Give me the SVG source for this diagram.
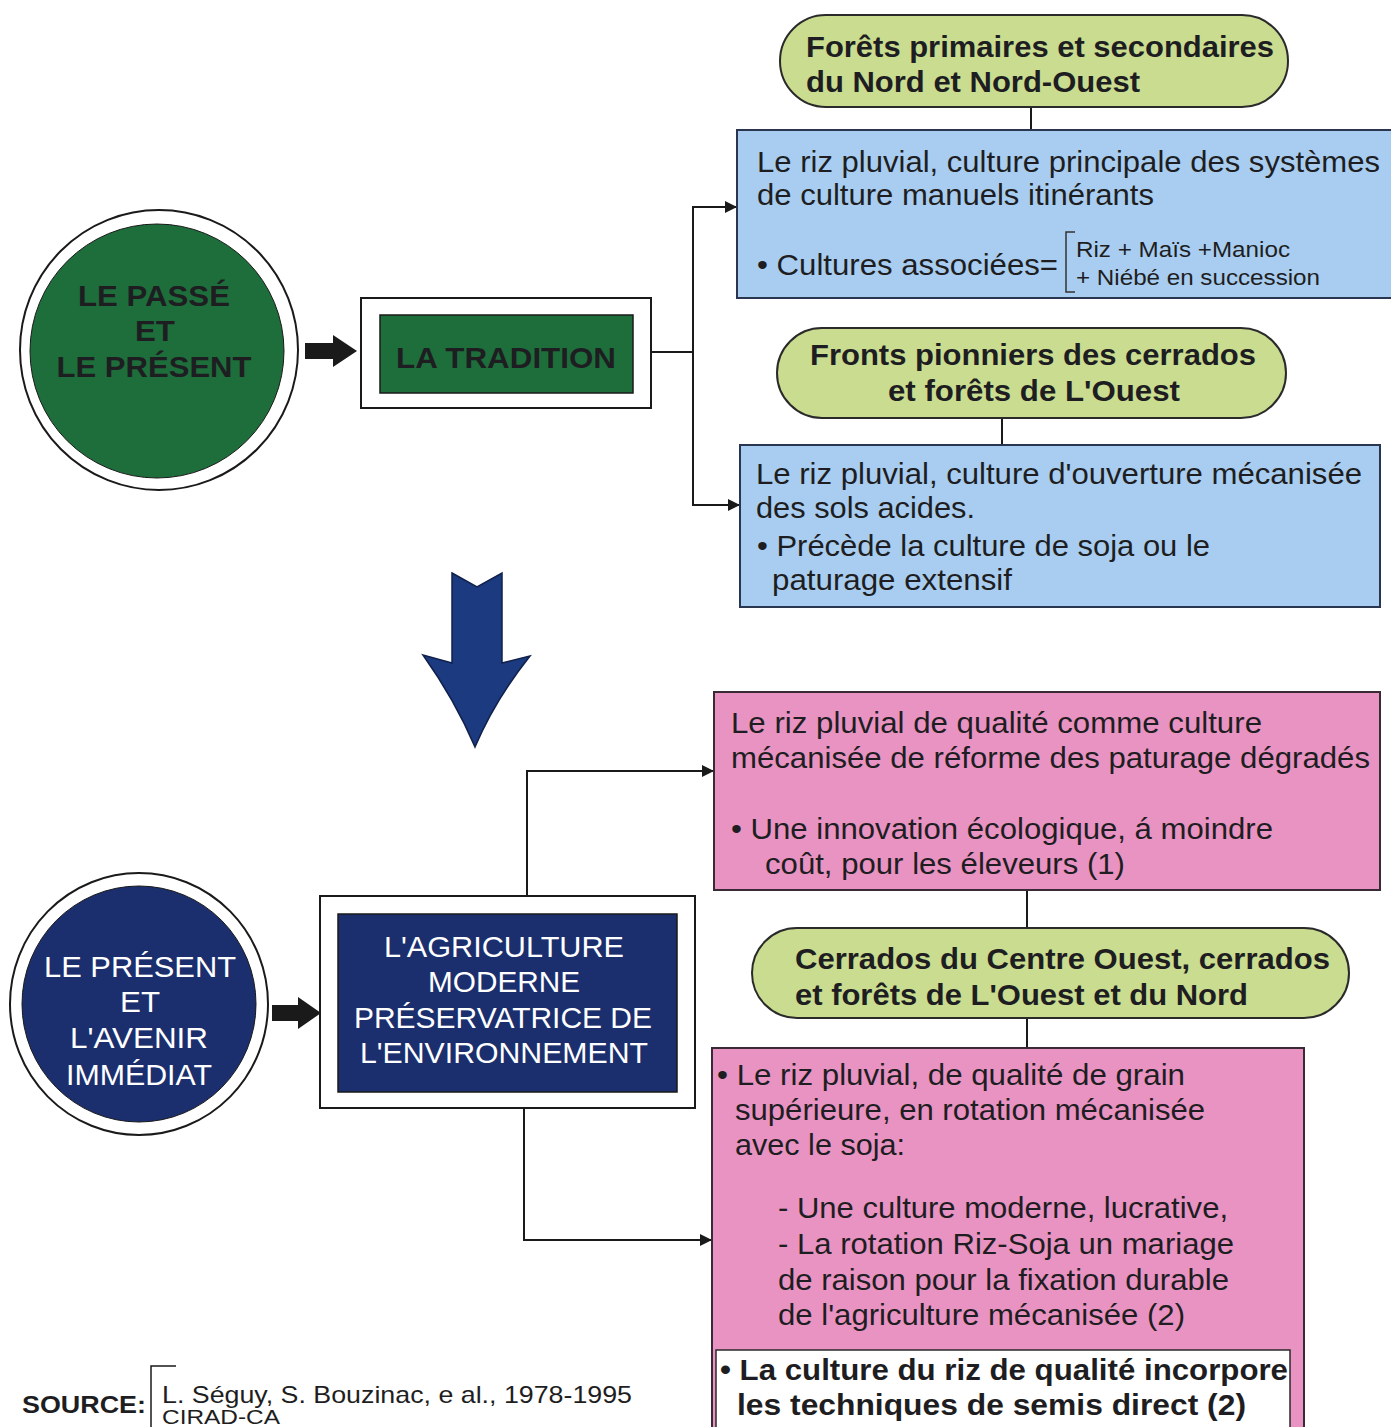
<svg xmlns="http://www.w3.org/2000/svg" width="1391" height="1427" viewBox="0 0 1391 1427">
<defs>
<style>
text{font-family:"Liberation Sans",Arial,sans-serif;fill:#1e1e22}
.b{font-weight:bold}
.t{font-size:29px}
.s{font-size:22px}
.p{font-size:30px;font-weight:bold}
.w{fill:#ffffff}
.pill{fill:#c9dc8f;stroke:#2a2a2a;stroke-width:2}
.blue{fill:#a8cdf0;stroke:#2a3550;stroke-width:2}
.pink{fill:#e993c3;stroke:#3a2a35;stroke-width:2}
.frame{fill:#ffffff;stroke:#1a1a1a;stroke-width:2}
.con{fill:none;stroke:#1a1a1a;stroke-width:2}
</style>
<marker id="ah" viewBox="0 0 12 12" refX="11" refY="6" markerWidth="12" markerHeight="12" markerUnits="userSpaceOnUse" orient="auto">
<path d="M0,0 L12,6 L0,12 z" fill="#1a1a1a"/>
</marker>
</defs>
<rect width="1391" height="1427" fill="#ffffff"/>

<g id="connectors">
<line class="con" x1="1031" y1="107" x2="1031" y2="130"/>
<line class="con" x1="1002" y1="418" x2="1002" y2="445"/>
<polyline class="con" points="651,352 693,352"/>
<polyline class="con" points="693,352 693,207 736,207" marker-end="url(#ah)"/>
<polyline class="con" points="693,352 693,505 739,505" marker-end="url(#ah)"/>
<polyline class="con" points="527,896 527,771 713,771" marker-end="url(#ah)"/>
<polyline class="con" points="524,1108 524,1240 711,1240" marker-end="url(#ah)"/>
<line class="con" x1="1027" y1="890" x2="1027" y2="928"/>
<line class="con" x1="1027" y1="1018" x2="1027" y2="1048"/>
<path d="M305,343 L333,343 L333,335 L357,351 L333,367 L333,359 L305,359 Z" fill="#1a1a1a"/>
<path d="M272,1005 L298,1005 L298,997 L321,1013 L298,1029 L298,1021 L272,1021 Z" fill="#1a1a1a"/>
<path d="M452,573 L477,587 L502,573 L502,663 L530,656 Q495,700 475,747 Q455,700 423,655 L452,663 Z" fill="#1b3a80" stroke="#10204a" stroke-width="1.5"/>
</g>

<g id="pill1">
<rect class="pill" x="780" y="15" width="508" height="92" rx="46"/>
<text class="p" x="806" y="57" textLength="468" lengthAdjust="spacingAndGlyphs">Forêts primaires et secondaires</text>
<text class="p" x="806" y="92" textLength="334" lengthAdjust="spacingAndGlyphs">du Nord et Nord-Ouest</text>
</g>

<g id="blue1">
<rect class="blue" x="737" y="130" width="660" height="168"/>
<text class="t" x="757" y="172" textLength="623" lengthAdjust="spacingAndGlyphs">Le riz pluvial, culture principale des systèmes</text>
<text class="t" x="757" y="205" textLength="397" lengthAdjust="spacingAndGlyphs">de culture manuels itinérants</text>
<text class="t" x="757" y="275" textLength="301" lengthAdjust="spacingAndGlyphs">• Cultures associées=</text>
<polyline points="1075,232 1066,232 1066,292 1075,292" fill="none" stroke="#333" stroke-width="1.5"/>
<text class="s" x="1076" y="257" textLength="214" lengthAdjust="spacingAndGlyphs">Riz + Maïs +Manioc</text>
<text class="s" x="1076" y="285" textLength="244" lengthAdjust="spacingAndGlyphs">+ Niébé en succession</text>
</g>

<g id="circle1">
<ellipse cx="159" cy="350" rx="139" ry="140" fill="#ffffff" stroke="#1a1a1a" stroke-width="2"/>
<ellipse cx="157" cy="351" rx="127" ry="127" fill="#1d6e3a" stroke="#1a1a1a" stroke-width="1"/>
<text class="p" x="154" y="306" text-anchor="middle" textLength="152" lengthAdjust="spacingAndGlyphs">LE PASSÉ</text>
<text class="p" x="155" y="341" text-anchor="middle" textLength="40" lengthAdjust="spacingAndGlyphs">ET</text>
<text class="p" x="154" y="377" text-anchor="middle" textLength="195" lengthAdjust="spacingAndGlyphs">LE PRÉSENT</text>
</g>

<g id="tradition">
<rect class="frame" x="361" y="298" width="290" height="110"/>
<rect x="380" y="315" width="253" height="78" fill="#1d6e3a" stroke="#1a1a1a" stroke-width="1.5"/>
<text class="p" x="506" y="368" text-anchor="middle" textLength="220" lengthAdjust="spacingAndGlyphs">LA TRADITION</text>
</g>

<g id="pill2">
<rect class="pill" x="777" y="328" width="509" height="90" rx="45"/>
<text class="p" x="1033" y="365" text-anchor="middle" textLength="446" lengthAdjust="spacingAndGlyphs">Fronts pionniers des cerrados</text>
<text class="p" x="1034" y="401" text-anchor="middle" textLength="292" lengthAdjust="spacingAndGlyphs">et forêts de L'Ouest</text>
</g>

<g id="blue2">
<rect class="blue" x="740" y="445" width="640" height="162"/>
<text class="t" x="756" y="484" textLength="606" lengthAdjust="spacingAndGlyphs">Le riz pluvial, culture d'ouverture mécanisée</text>
<text class="t" x="756" y="518" textLength="219" lengthAdjust="spacingAndGlyphs">des sols acides.</text>
<text class="t" x="757" y="556" textLength="453" lengthAdjust="spacingAndGlyphs">• Précède la culture de soja ou le</text>
<text class="t" x="772" y="590" textLength="240" lengthAdjust="spacingAndGlyphs">paturage extensif</text>
</g>

<g id="pink1">
<rect class="pink" x="714" y="692" width="666" height="198"/>
<text class="t" x="731" y="733" textLength="531" lengthAdjust="spacingAndGlyphs">Le riz pluvial de qualité comme culture</text>
<text class="t" x="731" y="768" textLength="639" lengthAdjust="spacingAndGlyphs">mécanisée de réforme des paturage dégradés</text>
<text class="t" x="731" y="839" textLength="542" lengthAdjust="spacingAndGlyphs">• Une innovation écologique, á moindre</text>
<text class="t" x="765" y="874" textLength="360" lengthAdjust="spacingAndGlyphs">coût, pour les éleveurs (1)</text>
</g>

<g id="pill3">
<rect class="pill" x="752" y="928" width="597" height="90" rx="45"/>
<text class="p" x="795" y="969" textLength="535" lengthAdjust="spacingAndGlyphs">Cerrados du Centre Ouest, cerrados</text>
<text class="p" x="795" y="1005" textLength="453" lengthAdjust="spacingAndGlyphs">et forêts de L'Ouest et du Nord</text>
</g>

<g id="circle2">
<ellipse cx="139" cy="1004" rx="129" ry="131" fill="#ffffff" stroke="#1a1a1a" stroke-width="2"/>
<ellipse cx="139" cy="1004" rx="117" ry="118" fill="#1b2f6e" stroke="#1a1a1a" stroke-width="1"/>
<text class="t w" x="140" y="977" text-anchor="middle" textLength="192" lengthAdjust="spacingAndGlyphs">LE PRÉSENT</text>
<text class="t w" x="140" y="1012" text-anchor="middle" textLength="40" lengthAdjust="spacingAndGlyphs">ET</text>
<text class="t w" x="139" y="1048" text-anchor="middle" textLength="138" lengthAdjust="spacingAndGlyphs">L'AVENIR</text>
<text class="t w" x="139" y="1085" text-anchor="middle" textLength="146" lengthAdjust="spacingAndGlyphs">IMMÉDIAT</text>
</g>

<g id="agriculture">
<rect class="frame" x="320" y="896" width="375" height="212"/>
<rect x="338" y="914" width="339" height="178" fill="#1b2f6e" stroke="#1a1a1a" stroke-width="1.5"/>
<text class="t w" x="504" y="957" text-anchor="middle" textLength="240" lengthAdjust="spacingAndGlyphs">L'AGRICULTURE</text>
<text class="t w" x="504" y="992" text-anchor="middle" textLength="152" lengthAdjust="spacingAndGlyphs">MODERNE</text>
<text class="t w" x="503" y="1028" text-anchor="middle" textLength="298" lengthAdjust="spacingAndGlyphs">PRÉSERVATRICE DE</text>
<text class="t w" x="504" y="1063" text-anchor="middle" textLength="288" lengthAdjust="spacingAndGlyphs">L'ENVIRONNEMENT</text>
</g>

<g id="pink2">
<rect class="pink" x="712" y="1048" width="592" height="385"/>
<text class="t" x="717" y="1085" textLength="468" lengthAdjust="spacingAndGlyphs">• Le riz pluvial, de qualité de grain</text>
<text class="t" x="735" y="1120" textLength="470" lengthAdjust="spacingAndGlyphs">supérieure, en rotation mécanisée</text>
<text class="t" x="735" y="1155" textLength="170" lengthAdjust="spacingAndGlyphs">avec le soja:</text>
<text class="t" x="778" y="1218" textLength="450" lengthAdjust="spacingAndGlyphs">- Une culture moderne, lucrative,</text>
<text class="t" x="778" y="1254" textLength="456" lengthAdjust="spacingAndGlyphs">- La rotation Riz-Soja un mariage</text>
<text class="t" x="778" y="1290" textLength="451" lengthAdjust="spacingAndGlyphs">de raison pour la fixation durable</text>
<text class="t" x="778" y="1325" textLength="407" lengthAdjust="spacingAndGlyphs">de l'agriculture mécanisée (2)</text>
<rect x="716" y="1350" width="574" height="82" fill="#ffffff" stroke="#2a2a2a" stroke-width="1.5"/>
<text class="p" x="720" y="1380" textLength="568" lengthAdjust="spacingAndGlyphs">• La culture du riz de qualité incorpore</text>
<text class="p" x="737" y="1415" textLength="509" lengthAdjust="spacingAndGlyphs">les techniques de semis direct  (2)</text>
</g>

<g id="source">
<text class="b" x="22" y="1413" font-size="24" textLength="124" lengthAdjust="spacingAndGlyphs">SOURCE:</text>
<polyline points="176,1366 151,1366 151,1430" fill="none" stroke="#1a1a1a" stroke-width="1.5"/>
<text x="162" y="1403" font-size="24" textLength="470" lengthAdjust="spacingAndGlyphs">L. Séguy, S. Bouzinac, e al., 1978-1995</text>
<text x="162" y="1424" font-size="20" textLength="118" lengthAdjust="spacingAndGlyphs">CIRAD-CA</text>
</g>
</svg>
